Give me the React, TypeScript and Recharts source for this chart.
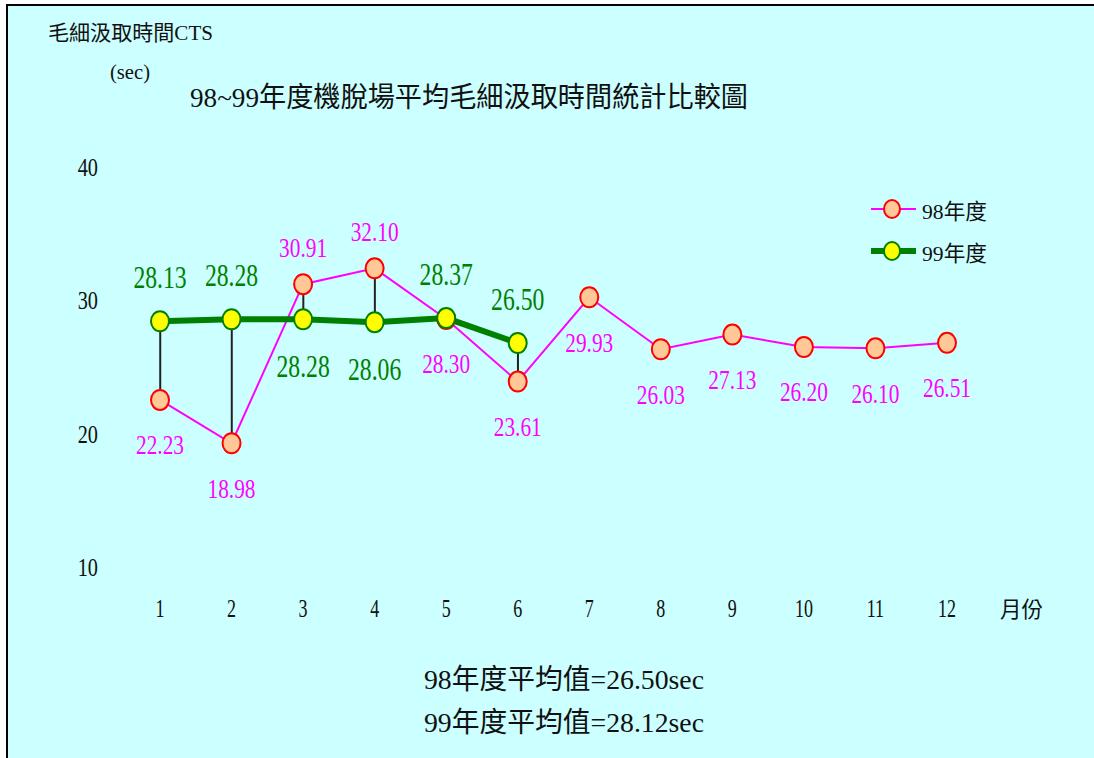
import React from 'react';
import { ComposedChart, Line, Bar, XAxis, YAxis, LabelList } from 'recharts';

const months = [1, 2, 3, 4, 5, 6, 7, 8, 9, 10, 11, 12];
const cts98 = [22.23, 18.98, 30.91, 32.1, 28.3, 23.61, 29.93, 26.03, 27.13, 26.2, 26.1, 26.51];
const cts99 = [28.13, 28.28, 28.28, 28.06, 28.37, 26.5];
const yTicks = [10, 20, 30, 40];
const labelsAbove98 = [3, 4];
const labelsAbove99 = [1, 2, 5, 6];

const title = '98~99年度機脫場平均毛細汲取時間統計比較圖';
const yTitle = '毛細汲取時間CTS';
const yUnit = '(sec)';
const xTitle = '月份';
const avg98 = '98年度平均值=26.50sec';
const avg99 = '99年度平均值=28.12sec';
const name98 = '98年度';
const name99 = '99年度';

const data = months.map((m, i) => {
  const a = cts98[i];
  const b = cts99[i];
  return {
    month: m,
    y98: a,
    y99: b === undefined ? null : b,
    range: b === undefined ? null : [Math.min(a, b), Math.max(a, b)],
  };
});

const FONT = '"Liberation Serif", "Noto Sans CJK TC", serif';
const MAGENTA = '#ff00ff';
const GREEN = '#008000';
const PEACH = '#ffc896';

const Cond = ({ x, y, size, sx = 1, anchor = 'middle', fill = '#111', children, textLength }: any) => (
  <text
    transform={`translate(${x},${y}) scale(${sx},1)`}
    x={0}
    y={0}
    fontSize={size}
    textAnchor={anchor}
    dominantBaseline="central"
    fill={fill}
    fontFamily={FONT}
    textLength={textLength}
    lengthAdjust={textLength ? 'spacingAndGlyphs' : undefined}
  >
    {children}
  </text>
);

const dot98 = (props: any) => {
  const { cx, cy, index } = props;
  if (cx == null || cy == null) return <g key={`d98-${index}`} />;
  return <ellipse key={`d98-${index}`} cx={cx} cy={cy} rx={9} ry={10} fill={PEACH} stroke="#ff0000" strokeWidth={2} />;
};
const dot99 = (props: any) => {
  const { cx, cy, index, value } = props;
  if (cx == null || cy == null || value == null) return <g key={`d99-${index}`} />;
  return <ellipse key={`d99-${index}`} cx={cx} cy={cy} rx={9} ry={10} fill="#ffff00" stroke={GREEN} strokeWidth={2} />;
};

const label98 = (props: any) => {
  const { x, y, value, index } = props;
  if (value == null || x == null) return null;
  const above = labelsAbove98.includes(months[index]);
  return (
    <Cond key={`l98-${index}`} x={x} y={y + (above ? -37 : 45)} size={27} sx={0.79} fill={MAGENTA}>
      {Number(value).toFixed(2)}
    </Cond>
  );
};
const label99 = (props: any) => {
  const { x, y, value, index } = props;
  if (value == null || x == null) return null;
  const above = labelsAbove99.includes(months[index]);
  return (
    <Cond key={`l99-${index}`} x={x} y={y + (above ? -44 : 47)} size={32} sx={0.74} fill={GREEN}>
      {Number(value).toFixed(2)}
    </Cond>
  );
};

const XTick = (props: any) => {
  const { x, y, payload } = props;
  return (
    <Cond x={x} y={y + 46} size={25} sx={0.72}>
      {payload.value}
    </Cond>
  );
};
const YTick = (props: any) => {
  const { x, y, payload } = props;
  return (
    <Cond x={x - 62} y={y + 4} size={26} sx={0.78} anchor="end">
      {payload.value}
    </Cond>
  );
};

export default function App() {
  return (
    <div style={{ position: 'absolute', left: 0, top: 0, width: 1094, height: 758, overflow: 'hidden', background: '#fff' }}>
      <div
        style={{
          position: 'absolute',
          left: 6,
          top: 4,
          width: 1200,
          height: 900,
          border: '2px solid #000',
          background: '#ccffff',
        }}
      />
      <svg width={1094} height={758} style={{ position: 'absolute', left: 0, top: 0 }}>
        <Cond x={48} y={33} size={21} anchor="start" textLength={165}>{yTitle}</Cond>
        <Cond x={110} y={72} size={20} anchor="start" textLength={40}>{yUnit}</Cond>
        <Cond x={190} y={97} size={28} anchor="start" textLength={558}>{title}</Cond>
        <Cond x={1000} y={609} size={22} anchor="start" textLength={43}>{xTitle}</Cond>
        <Cond x={424} y={679} size={28} anchor="start" textLength={280}>{avg98}</Cond>
        <Cond x={424} y={722} size={28} anchor="start" textLength={280}>{avg99}</Cond>
        <g transform="translate(865,190)">
          <line x1={6} y1={19} x2={51} y2={19} stroke={MAGENTA} strokeWidth={2} />
          <ellipse cx={27} cy={19} rx={8} ry={9} fill={PEACH} stroke="#ff0000" strokeWidth={2} />
          <Cond x={57} y={21} size={22} anchor="start" textLength={65}>{name98}</Cond>
          <line x1={6} y1={61} x2={51} y2={61} stroke={GREEN} strokeWidth={6} />
          <ellipse cx={27} cy={61} rx={8} ry={9} fill="#ffff00" stroke={GREEN} strokeWidth={2} />
          <Cond x={57} y={63} size={22} anchor="start" textLength={65}>{name99}</Cond>
        </g>
      </svg>
      <div style={{ position: 'absolute', left: 0, top: 0 }}>
        <ComposedChart width={1094} height={758} data={data} margin={{ top: 163, right: 147, bottom: 145, left: 80 }}>
          <XAxis
            dataKey="month"
            type="number"
            domain={[1, 12]}
            ticks={months}
            axisLine={false}
            tickLine={false}
            tickSize={0}
            tickMargin={0}
            height={50}
            tick={<XTick />}
            interval={0}
          />
          <YAxis
            type="number"
            domain={[10, 40]}
            ticks={yTicks}
            axisLine={false}
            tickLine={false}
            tickSize={0}
            tickMargin={0}
            width={80}
            tick={<YTick />}
            interval={0}
          />
          <Bar dataKey="range" barSize={2} fill="#222" isAnimationActive={false} legendType="none" />
          <Line
            dataKey="y98"
            name={name98}
            stroke={MAGENTA}
            strokeWidth={2}
            dot={dot98}
            activeDot={false}
            isAnimationActive={false}
          >
            <LabelList dataKey="y98" content={label98} />
          </Line>
          <Line
            dataKey="y99"
            name={name99}
            stroke={GREEN}
            strokeWidth={6}
            dot={dot99}
            activeDot={false}
            isAnimationActive={false}
          >
            <LabelList dataKey="y99" content={label99} />
          </Line>
        </ComposedChart>
      </div>
    </div>
  );
}
